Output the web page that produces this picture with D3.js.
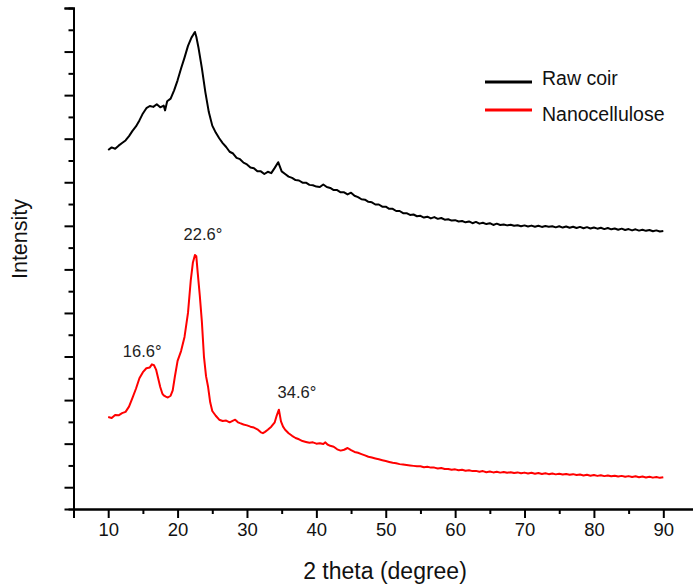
<!DOCTYPE html>
<html>
<head>
<meta charset="utf-8">
<script src="https://cdn.jsdelivr.net/npm/d3@7"></script>
<style>
  body { margin: 0; background: #fff; }
  svg text { font-family: "Liberation Sans", Arial, sans-serif; }
</style>
</head>
<body>
<div id="chart"></div>
<script>
var width = 693;
var height = 584;

// 2 theta (deg), intensity (a.u.)
var rawCoir = [
  [10,1648],[10.5,1660],[11,1654],[11.5,1668],[12,1680],[12.5,1692],[13,1712],[13.5,1736],
  [14,1756],[14.5,1784],[15,1816],[15.5,1840],[16,1850],[16.5,1846],[17,1858],[17.5,1844],
  [18,1852],[18.2,1830],[18.5,1872],[19,1884],[19.5,1922],[20,1968],[20.5,2022],[21,2072],
  [21.5,2126],[22,2164],[22.3,2180],[22.5,2190],[22.7,2168],[23,2120],[23.5,2024],[24,1914],
  [24.5,1822],[25,1760],[25.5,1728],[26,1702],[26.5,1680],[27,1662],[27.5,1640],[28,1632],
  [28.5,1612],[29,1606],[29.5,1590],[30,1582],[30.5,1568],[31,1564],[31.5,1550],[32,1550],
  [32.5,1538],[33,1548],[33.5,1542],[34,1566],[34.5,1592],[35,1550],[35.5,1538],[36,1526],
  [36.5,1520],[37,1510],[37.5,1508],[38,1498],[38.5,1498],[39,1488],[39.5,1486],[40,1480],
  [40.5,1478],[41,1490],[41.5,1478],[42,1474],[42.5,1464],[43,1464],[43.5,1454],[44,1454],
  [44.5,1444],[45,1452],[45.5,1438],[46,1432],[46.5,1422],[47,1420],[47.5,1410],[48,1408],
  [48.5,1398],[49,1398],[49.5,1388],[50,1388],[50.5,1378],[51,1378],[51.5,1368],[52,1368],
  [52.5,1358],[53,1358],[53.5,1350],[54,1352],[54.5,1344],[55,1346],[55.5,1338],[56,1342],
  [56.5,1334],[57,1340],[57.5,1332],[58,1336],[58.5,1328],[59,1330],[59.5,1324],[60,1326],
  [60.5,1320],[61,1322],[61.5,1316],[62,1320],[62.5,1312],[63,1318],[63.5,1310],[64,1314],
  [64.5,1308],[65,1312],[65.5,1304],[66,1310],[66.5,1304],[67,1306],[67.5,1302],[68,1305],
  [68.5,1300],[69,1303],[69.5,1298],[70,1302],[70.5,1297],[71,1301],[71.5,1296],[72,1300],
  [72.5,1295],[73,1299],[73.5,1296],[74,1298],[74.5,1293],[75,1298],[75.5,1292],[76,1297],
  [76.5,1291],[77,1296],[77.5,1290],[78,1295],[78.5,1289],[79,1294],[79.5,1288],[80,1292],
  [80.5,1287],[81,1291],[81.5,1285],[82,1290],[82.5,1284],[83,1288],[83.5,1282],[84,1287],
  [84.5,1281],[85,1285],[85.5,1279],[86,1284],[86.5,1278],[87,1282],[87.5,1277],[88,1281],
  [88.5,1275],[89,1279],[89.5,1274],[90,1276]
];

var nanocellulose = [
  [10,422],[10.5,418],[11,432],[11.5,430],[12,440],[12.5,446],[13,470],[13.5,510],
  [14,552],[14.5,600],[15,628],[15.5,646],[16,650],[16.3,664],[16.6,660],[16.9,640],
  [17.2,600],[17.5,560],[17.8,530],[18,522],[18.3,516],[18.6,512],[19,520],[19.3,545],
  [19.6,606],[20,680],[20.5,725],[21,790],[21.5,900],[21.9,1050],[22.2,1130],[22.5,1166],
  [22.7,1160],[22.9,1085],[23.2,980],[23.5,860],[23.8,700],[24.1,610],[24.4,560],[24.7,490],
  [25,450],[25.5,428],[26,410],[26.5,404],[27,406],[27.5,398],[28,406],[28.3,410],
  [28.7,398],[29,394],[29.5,388],[30,384],[30.5,378],[31,374],[31.5,366],[32,352],
  [32.3,348],[32.6,354],[33,364],[33.5,378],[34,398],[34.3,430],[34.6,456],[34.9,402],
  [35.2,378],[35.5,364],[36,348],[36.5,336],[37,326],[37.5,320],[38,312],[38.5,308],
  [39,304],[39.5,306],[40,300],[40.5,302],[41,298],[41.3,306],[41.6,296],[42,290],
  [42.5,286],[43,274],[43.5,268],[44,272],[44.5,280],[45,270],[45.5,262],[46,258],
  [46.5,252],[47,246],[47.5,240],[48,236],[48.5,232],[49,228],[49.5,224],[50,220],
  [50.5,216],[51,212],[51.5,210],[52,206],[52.5,204],[53,202],[53.5,200],[54,198],
  [54.5,196],[55,196],[55.5,192],[56,194],[56.5,190],[57,190],[57.5,186],[58,188],
  [58.5,184],[59,184],[59.5,180],[60,182],[60.5,178],[61,180],[61.5,176],[62,178],
  [62.5,174],[63,175],[63.5,171],[64,174],[64.5,169],[65,172],[65.5,168],[66,171],
  [66.5,167],[67,170],[67.5,166],[68,169],[68.5,165],[69,168],[69.5,164],[70,167],
  [70.5,163],[71,166],[71.5,162],[72,165],[72.5,161],[73,164],[73.5,160],[74,163],
  [74.5,159],[75,162],[75.5,158],[76,161],[76.5,157],[77,160],[77.5,156],[78,158],
  [78.5,154],[79,157],[79.5,153],[80,156],[80.5,152],[81,155],[81.5,151],[82,154],
  [82.5,150],[83,153],[83.5,149],[84,152],[84.5,148],[85,151],[85.5,147],[86,150],
  [86.5,146],[87,149],[87.5,145],[88,148],[88.5,144],[89,147],[89.5,143],[90,146]
];

var seriesNames = ["Raw coir", "Nanocellulose"];
var seriesColors = ["#000000", "#ff0000"];

// peak annotations, placed where the text sits (data units)
var peakLabels = ["16.6\u00b0", "22.6\u00b0", "34.6\u00b0"];
var peakLabelX = [14.9, 23.65, 37.2];
var peakLabelY = [698, 1235, 510];

var xMajor = [10, 20, 30, 40, 50, 60, 70, 80, 90];
var xMinor = [5, 15, 25, 35, 45, 55, 65, 75, 85, 95];
var yMajor = [100, 300, 500, 700, 900, 1100, 1300, 1500, 1700, 1900, 2100, 2300];
var yMinor = [200, 400, 600, 800, 1000, 1200, 1400, 1600, 1800, 2000, 2200];

// plot box (don't call these top/left, window.top is read-only)
var plotLeft = 73.5, plotRight = 698, plotTop = 8, plotBottom = 509;

var svg = d3.select("#chart")
  .append("svg")
  .attr("width", width)
  .attr("height", height);

var xScale = d3.scaleLinear().domain([5, 95]).range([plotLeft, plotRight]);
var yScale = d3.scaleLinear().domain([0, 2300]).range([plotBottom, plotTop]);

// x axis: minor then major ticks
var xMinorAxis = d3.axisBottom(xScale).tickValues(xMinor).tickSize(5).tickFormat("");
var xMajorAxis = d3.axisBottom(xScale).tickValues(xMajor).tickSize(9).tickPadding(5)
  .tickFormat(d3.format("d"));

svg.append("g").attr("transform", "translate(0," + plotBottom + ")").call(xMinorAxis);
var gx = svg.append("g").attr("transform", "translate(0," + plotBottom + ")").call(xMajorAxis);

var yMinorAxis = d3.axisLeft(yScale).tickValues(yMinor).tickSize(5).tickFormat("");
var yMajorAxis = d3.axisLeft(yScale).tickValues(yMajor).tickSize(9).tickFormat("");
svg.append("g").attr("transform", "translate(" + plotLeft + ",0)").call(yMinorAxis);
svg.append("g").attr("transform", "translate(" + plotLeft + ",0)").call(yMajorAxis);

svg.selectAll(".domain").attr("stroke", "#000").attr("stroke-width", 2);
svg.selectAll(".tick line").attr("stroke", "#000").attr("stroke-width", 2);
gx.selectAll(".tick text")
  .attr("fill", "#111")
  .style("font-size", "18.5px");

// axis titles
svg.append("text")
  .attr("x", 385)
  .attr("y", 579)
  .attr("text-anchor", "middle")
  .style("font-size", "23px")
  .attr("fill", "#111")
  .text("2 theta (degree)");

svg.append("text")
  .attr("transform", "translate(27,239) rotate(-90)")
  .attr("text-anchor", "middle")
  .style("font-size", "21.5px")
  .attr("fill", "#111")
  .text("Intensity");

// curves
var line = d3.line()
  .x(function(d) { return xScale(d[0]); })
  .y(function(d) { return yScale(d[1]); });

[rawCoir, nanocellulose].forEach(function(data, i) {
  svg.append("path")
    .datum(data)
    .attr("d", line)
    .attr("fill", "none")
    .attr("stroke", seriesColors[i])
    .attr("stroke-width", 2)
    .attr("stroke-linejoin", "round");
});

// peak labels
svg.selectAll(".peak")
  .data(peakLabels)
  .enter()
  .append("text")
  .attr("class", "peak")
  .attr("x", function(d, i) { return xScale(peakLabelX[i]); })
  .attr("y", function(d, i) { return yScale(peakLabelY[i]); })
  .attr("text-anchor", "middle")
  .style("font-size", "16.5px")
  .attr("fill", "#222")
  .text(function(d) { return d; });

// legend
var legend = svg.append("g");
var legendY = [82, 110];
var legendTextY = [85, 121];
seriesNames.forEach(function(name, i) {
  legend.append("line")
    .attr("x1", 485).attr("x2", 532)
    .attr("y1", legendY[i]).attr("y2", legendY[i])
    .attr("stroke", seriesColors[i])
    .attr("stroke-width", 3);
  legend.append("text")
    .attr("x", 542)
    .attr("y", legendTextY[i])
    .style("font-size", "19.5px")
    .attr("fill", "#111")
    .text(name);
});
</script>
</body>
</html>
